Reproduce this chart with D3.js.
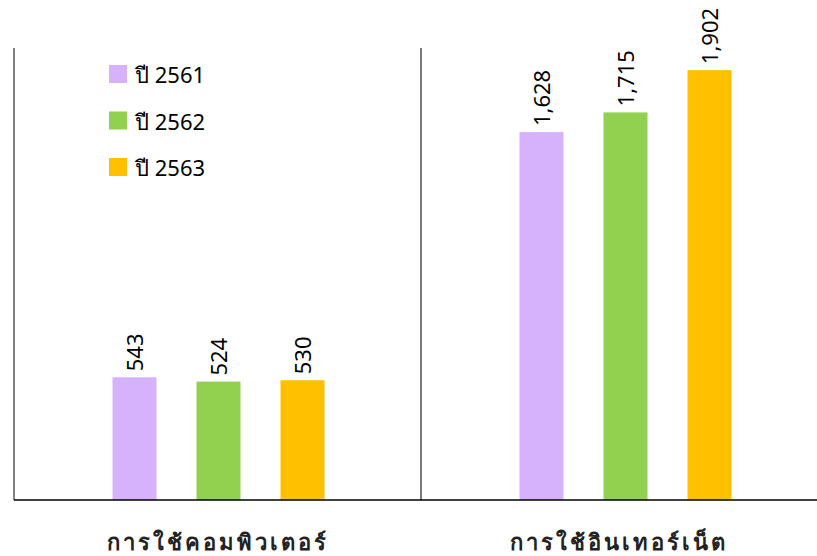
<!DOCTYPE html>
<html><head><meta charset="utf-8">
<script src="https://cdn.jsdelivr.net/npm/d3@7"></script>
<style>body{margin:0;background:#fff}svg{display:block}text{font-family:"Noto Sans","DejaVu Sans",sans-serif}</style>
</head><body>
<svg id="c" width="817" height="556"></svg>
<script>
const categories = ["การใช้คอมพิวเตอร์", "การใช้อินเทอร์เน็ต"];
const seriesNames = ["ปี 2561", "ปี 2562", "ปี 2563"];
const values2561 = [543, 1628];
const values2562 = [524, 1715];
const values2563 = [530, 1902];
const colors = ["#d7b2fc", "#92d050", "#ffc000"];
const series = [values2561, values2562, values2563];

(function () {
const svg = d3.select("#c");
const W = 817, padL = 14, padT = 48, baseY = 500;
const bandW = 407;
const x0 = d3.scaleBand().domain(categories).range([padL, padL + bandW * 2]).padding(0);
const y = d3.scaleLinear().domain([0, 2000]).range([baseY, padT]);
const groupW = 44 * 3 + 40 * 2;
const inner = d3.scaleBand().domain(seriesNames).range([0, groupW]).paddingInner(40/84).paddingOuter(0);
const fmt = d3.format(",");

svg.append("line").attr("x1", padL).attr("x2", padL).attr("y1", padT).attr("y2", baseY).attr("stroke", "#595959").attr("stroke-width", 1.5);
svg.append("line").attr("x1", x0(categories[1])).attr("x2", x0(categories[1])).attr("y1", padT).attr("y2", baseY).attr("stroke", "#222").attr("stroke-width", 1.2);

categories.forEach((cat, ci) => {
  const bx = x0(cat) + (x0.bandwidth() - groupW) / 2 + 1;
  seriesNames.forEach((s, si) => {
    const v = series[si][ci];
    const xx = bx + inner(s);
    svg.append("rect").attr("x", xx).attr("y", y(v)).attr("width", inner.bandwidth())
      .attr("height", y(0) - y(v)).attr("fill", colors[si]);
    svg.append("text").attr("transform", `translate(${xx + inner.bandwidth()/2 + 8},${y(v) - 6}) rotate(-90)`)
      .attr("font-size", 22).attr("fill", "#000").text(fmt(v));
  });
  const visL = x0(cat), visR = Math.min(x0(cat) + x0.bandwidth(), W);
  svg.append("text").attr("x", (visL + visR) / 2).attr("y", 550).attr("text-anchor", "middle")
    .attr("font-size", 22).attr("font-weight", "bold").attr("letter-spacing", "3px").attr("fill", "#222").text(cat);
});

svg.append("line").attr("x1", padL).attr("x2", W).attr("y1", baseY).attr("y2", baseY).attr("stroke", "#000").attr("stroke-width", 1.5);

seriesNames.forEach((s, i) => {
  const g = svg.append("g").attr("transform", `translate(109,${65 + i * 46.5})`);
  g.append("rect").attr("width", 18).attr("height", 18).attr("fill", colors[i]);
  g.append("text").attr("x", 26).attr("y", 18).attr("font-size", 22).attr("fill", "#000").text(s);
});
})();
</script>
</body></html>
